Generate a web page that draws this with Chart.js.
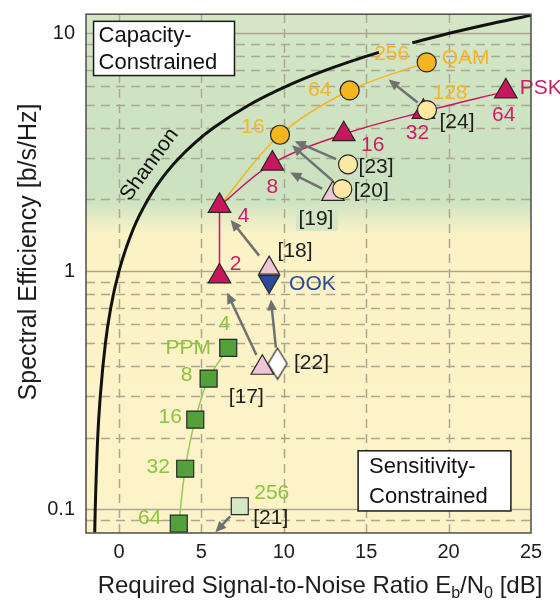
<!DOCTYPE html>
<html>
<head>
<meta charset="utf-8">
<title>Spectral efficiency vs. required Eb/N0</title>
<script src="https://cdn.jsdelivr.net/npm/chart.js@4.4.1/dist/chart.umd.min.js"></script>
<style>
  html, body { margin: 0; padding: 0; background: #ffffff; }
  canvas { display: block; }
</style>
</head>
<body>
<canvas id="chart" width="560" height="604"></canvas>
<script>
// ---------------- data ----------------
// Shannon limit; the gap leaves room for the "256" label
const shannonEbN0 = [-1.47, -1.44, -1.29, -1.13, -0.82, -0.50, 0.00, 0.86, 1.76, 2.70, 3.68, 4.69, 5.74, 7.92, 10.21, 12.59, 15.03, 15.78, null, 17.80, 20.10, 22.70, 25.33];
const shannonEff  = [0.08, 0.1, 0.2, 0.3, 0.5, 0.7, 1, 1.5, 2, 2.5, 3, 3.5, 4, 5, 6, 7, 8, 8.3, null, 9.1, 10, 11, 12];

// theoretical formats
const pskOrders = ['2', '4', '8', '16', '32', '64'];
const pskEbN0   = [6.1, 6.1, 9.31, 13.64, 18.47, 23.47];
const pskEff    = [0.95, 1.88, 2.83, 3.76, 4.67, 5.69];

const qamOrders = ['16', '64', '256'];
const qamEbN0   = [9.77, 14.0, 18.67];
const qamEff    = [3.74, 5.74, 7.53];

const ppmOrders = ['64', '32', '16', '8', '4'];
const ppmEbN0   = [3.63, 4.02, 4.63, 5.44, 6.63];
const ppmEff    = [0.087, 0.148, 0.238, 0.354, 0.476];

const ookEbN0 = [9.11];
const ookEff  = [0.905];

// experiments
const expPskRefs = ['[17]', '[18]', '[19]'];
const expPskEbN0 = [8.70, 9.11, 12.98];
const expPskEff  = [0.393, 1.03, 2.11];

const expQamRefs = ['[20]', '[23]', '[24]'];
const expQamEbN0 = [13.55, 13.9, 18.69];
const expQamEff  = [2.21, 2.81, 4.75];

const expOokRefs = ['[22]'];
const expOokEbN0 = [9.62];
const expOokEff  = [0.409];

const expPpmRefs = ['[21]'];
const expPpmEbN0 = [7.33];
const expPpmEff  = [0.103];

// theory points outside the plotted sets that arrows aim at
const qam128EbN0 = [16.36];
const qam128Eff  = [6.38];
const ppm256EbN0 = [5.85];
const ppm256Eff  = [0.080];

// axes
const xTickValues = [0, 5, 10, 15, 20, 25];
const yTickValues = [0.1, 1, 10];
const gridEbN0 = [0, 5, 10, 15, 20];
const gridEffMajor = [0.1, 1, 10];
const gridEffMinor = [0.09, 0.2, 0.3, 0.4, 0.5, 0.6, 0.7, 0.8, 0.9, 2, 3, 4, 5, 6, 7, 8, 9];

// ---------------- styling ----------------
const FONT = '"Liberation Sans", Arial, Helvetica, sans-serif';
const COL = {
  psk: '#c8175f', pskText: '#cf1c66',
  qam: '#f5b51e', qamText: '#f6b526',
  ppm: '#52a13a', ppmText: '#8cc43f', ppmLine: '#98c954',
  ook: '#2c4a9a', pink: '#f1c6d4', cream: '#fbe8a2', pale: '#d6e8c8',
  edge: '#262626', arrow: '#707070', grid: '#aca692', frame: '#4d4d4d', text: '#1c1c1c'
};

const pts = (xs, ys) => xs.map((x, i) => ({ x: x, y: ys[i] }));
const shannon = pts(shannonEbN0, shannonEff);
const psk = pts(pskEbN0, pskEff);
const qam = pts(qamEbN0, qamEff);
const ppm = pts(ppmEbN0, ppmEff);
const ook = pts(ookEbN0, ookEff);
const expPsk = pts(expPskEbN0, expPskEff);
const expQam = pts(expQamEbN0, expQamEff);
const expOok = pts(expOokEbN0, expOokEff);
const expPpm = pts(expPpmEbN0, expPpmEff);
const qam128 = pts(qam128EbN0, qam128Eff);
const ppm256 = pts(ppm256EbN0, ppm256Eff);

// tall white diamond marker
function makeDiamond(w, h, fill, stroke) {
  const c = document.createElement('canvas');
  c.width = w + 3; c.height = h + 3;
  const g = c.getContext('2d');
  const cx = c.width / 2, cy = c.height / 2;
  g.beginPath();
  g.moveTo(cx, cy - h / 2); g.lineTo(cx + w / 2, cy); g.lineTo(cx, cy + h / 2); g.lineTo(cx - w / 2, cy);
  g.closePath();
  g.fillStyle = fill; g.fill();
  g.lineWidth = 1.2; g.strokeStyle = stroke; g.stroke();
  return c;
}
const diamondMarker = makeDiamond(19, 31, '#ffffff', COL.edge);

// ---------------- annotation layout (pixel offsets from marks) ----------------
const pskLabelOffsets = [[16, -12], [24, 10], [0, 24], [29, 11], [-6, 21], [-2, 24]];
const qamLabelOffsets = [[-27, -8], [-30, 0], [-35, -8]];
const ppmLabelOffsets = [[-29, -5], [-27, -2], [-25, -2], [-22, -3], [-4, -24]];
const expPskLabelOffsets = [[-16, 29], [26, -17], [-17, 25]];
const expQamLabelOffsets = [[29, 2], [28, 3], [30, 12]];

// arrows: experiment -> theory, with gaps (px) at start and end
const arrows = [
  [expPsk[0], psk[0], 14, 18],
  [expOok[0], ook[0], 16, 18],
  [expPsk[1], psk[1], 16, 18],
  [expPsk[2], psk[2], 12, 20],
  [expQam[0], qam[0], 13, 16],
  [expQam[1], qam[0], 13, 16],
  [expQam[2], qam128[0], 12, 0],
  [expPpm[0], ppm256[0], 14, 0]
];

// ---------------- plugins ----------------
const P = (chart, p) => [chart.scales.x.getPixelForValue(p.x), chart.scales.y.getPixelForValue(p.y)];

function text(ctx, s, x, y, color, align, size) {
  ctx.font = (size || 21) + 'px ' + FONT;
  ctx.fillStyle = color;
  ctx.textAlign = align || 'center';
  ctx.textBaseline = 'middle';
  ctx.fillText(s, x, y);
}

const backdrop = {
  id: 'backdrop',
  beforeDraw(chart) {
    const { ctx, chartArea: a } = chart;
    const y = chart.scales.y;
    ctx.save();
    ctx.fillStyle = '#ffffff';
    ctx.fillRect(0, 0, chart.width, chart.height);
    const g = ctx.createLinearGradient(0, a.top, 0, a.bottom);
    const stop = v => Math.min(1, Math.max(0, (y.getPixelForValue(v) - a.top) / (a.bottom - a.top)));
    g.addColorStop(0, '#d4e6c5');
    g.addColorStop(stop(2.6), '#cbe1c0');
    g.addColorStop(stop(1.95), '#cee3c2');
    g.addColorStop(stop(1.45), '#fbf2c6');
    g.addColorStop(1, '#fcf3c8');
    ctx.fillStyle = g;
    ctx.fillRect(a.left, a.top, a.right - a.left, a.bottom - a.top);
    ctx.restore();
  },
  beforeDatasetsDraw(chart) {
    const { ctx, chartArea: a, scales: { x, y } } = chart;
    ctx.save();
    ctx.beginPath(); ctx.rect(a.left, a.top, a.right - a.left, a.bottom - a.top); ctx.clip();
    ctx.strokeStyle = COL.grid;
    ctx.lineWidth = 1.5;
    ctx.setLineDash([9, 6]);
    gridEbN0.forEach(v => {
      const px = Math.round(x.getPixelForValue(v)) + 0.5;
      ctx.beginPath(); ctx.moveTo(px, a.bottom); ctx.lineTo(px, a.top); ctx.stroke();
    });
    gridEffMinor.forEach(v => {
      const py = Math.round(y.getPixelForValue(v)) + 0.5;
      ctx.beginPath(); ctx.moveTo(a.left, py); ctx.lineTo(a.right, py); ctx.stroke();
    });
    ctx.setLineDash([]);
    gridEffMajor.forEach(v => {
      const py = Math.round(y.getPixelForValue(v)) + 0.5;
      ctx.beginPath(); ctx.moveTo(a.left, py); ctx.lineTo(a.right, py); ctx.stroke();
    });
    ctx.restore();
  },
  afterDatasetsDraw(chart) {
    const { ctx, chartArea: a } = chart;
    ctx.save();

    // arrows
    arrows.forEach(([from, to, g0, g1]) => {
      const [x0, y0] = P(chart, from), [x1, y1] = P(chart, to);
      const dx = x1 - x0, dy = y1 - y0, L = Math.hypot(dx, dy), ux = dx / L, uy = dy / L;
      const sx = x0 + ux * g0, sy = y0 + uy * g0, ex = x1 - ux * g1, ey = y1 - uy * g1;
      const head = 11, half = 5;
      ctx.strokeStyle = COL.arrow; ctx.lineWidth = 2.5; ctx.lineCap = 'butt';
      ctx.beginPath(); ctx.moveTo(sx, sy); ctx.lineTo(ex - ux * head * 0.7, ey - uy * head * 0.7); ctx.stroke();
      ctx.fillStyle = COL.arrow;
      ctx.beginPath();
      ctx.moveTo(ex, ey);
      ctx.lineTo(ex - ux * head - uy * half, ey - uy * head + ux * half);
      ctx.lineTo(ex - ux * head + uy * half, ey - uy * head - ux * half);
      ctx.closePath(); ctx.fill();
    });

    // order labels
    psk.forEach((p, i) => { const [px, py] = P(chart, p); text(ctx, pskOrders[i], px + pskLabelOffsets[i][0], py + pskLabelOffsets[i][1], COL.pskText); });
    qam.forEach((p, i) => { const [px, py] = P(chart, p); text(ctx, qamOrders[i], px + qamLabelOffsets[i][0], py + qamLabelOffsets[i][1], COL.qamText); });
    ppm.forEach((p, i) => { const [px, py] = P(chart, p); text(ctx, ppmOrders[i], px + ppmLabelOffsets[i][0], py + ppmLabelOffsets[i][1], COL.ppmText); });

    let q;
    q = P(chart, psk[5]); text(ctx, 'PSK', q[0] + 14, q[1] - 3, COL.pskText, 'left');
    q = P(chart, qam[2]); text(ctx, 'QAM', q[0] + 15, q[1] - 4, COL.qamText, 'left');
    q = P(chart, ppm[4]); text(ctx, 'PPM', q[0] - 40, q[1], COL.ppmText);
    q = P(chart, ook[0]); text(ctx, 'OOK', q[0] + 20, q[1] + 3, COL.ook, 'left');

    // experiment references
    expPsk.forEach((p, i) => {
      const [px, py] = P(chart, p);
      const lx = px + expPskLabelOffsets[i][0], ly = py + expPskLabelOffsets[i][1];
      if (i === 2) { ctx.fillStyle = '#d3e6c6'; ctx.fillRect(lx - 20, ly - 12, 42, 24); }
      text(ctx, expPskRefs[i], lx, ly, COL.text);
    });
    expQam.forEach((p, i) => { const [px, py] = P(chart, p); text(ctx, expQamRefs[i], px + expQamLabelOffsets[i][0], py + expQamLabelOffsets[i][1], COL.text); });
    q = P(chart, expQam[2]); text(ctx, '128', q[0] + 23, q[1] - 17, COL.qamText);
    q = P(chart, expOok[0]); text(ctx, expOokRefs[0], q[0] + 34, q[1], COL.text);
    q = P(chart, expPpm[0]);
    text(ctx, expPpmRefs[0], q[0] + 31, q[1] + 12, COL.text);
    text(ctx, '256', q[0] + 32, q[1] - 13, COL.ppmText);

    // Shannon label along the curve
    const [sx, sy] = P(chart, { x: 1.85, y: 2.8 });
    ctx.save();
    ctx.translate(sx, sy); ctx.rotate(-54 * Math.PI / 180);
    text(ctx, 'Shannon', 0, 0, '#111111', 'center', 21);
    ctx.restore();

    // region boxes
    const box = (x0, y0, x1, y1, lines, tx) => {
      const [l, t] = P(chart, { x: x0, y: y0 }), [r, b] = P(chart, { x: x1, y: y1 });
      ctx.fillStyle = '#ffffff'; ctx.fillRect(l, t, r - l, b - t);
      ctx.strokeStyle = '#1a1a1a'; ctx.lineWidth = 1.5; ctx.strokeRect(l, t, r - l, b - t);
      const h = (b - t) / lines.length;
      lines.forEach((s, i) => text(ctx, s, l + tx, t + h * (i + 0.5) + 1, '#111111', 'left', 22));
    };
    box(-1.54, 11.2, 7.01, 6.63, ['Capacity-', 'Constrained'], 5);
    box(14.51, 0.176, 23.78, 0.0984, ['Sensitivity-', 'Constrained'], 11);

    // frame
    ctx.strokeStyle = COL.frame; ctx.lineWidth = 1.5;
    ctx.strokeRect(a.left, a.top, a.right - a.left, a.bottom - a.top);
    ctx.restore();
  },
  afterDraw(chart) {
    const { ctx } = chart;
    ctx.save();
    // x-axis title with subscripts
    const big = '24px ' + FONT, small = '16px ' + FONT;
    const parts = [['Required Signal-to-Noise Ratio E', big, 0], ['b', small, 5], ['/N', big, 0], ['0', small, 5], [' [dB]', big, 0]];
    let w = 0;
    parts.forEach(p => { ctx.font = p[1]; w += ctx.measureText(p[0]).width; });
    let x = 320 - w / 2;
    const base = 593;
    ctx.fillStyle = COL.text; ctx.textAlign = 'left'; ctx.textBaseline = 'alphabetic';
    parts.forEach(p => { ctx.font = p[1]; ctx.fillText(p[0], x, base + p[2]); x += ctx.measureText(p[0]).width; });
    // y-axis title
    ctx.translate(29, 252); ctx.rotate(-Math.PI / 2);
    text(ctx, 'Spectral Efficiency [b/s/Hz]', 0, 0, COL.text, 'center', 25);
    ctx.restore();
  }
};

// ---------------- chart ----------------
const markers = (pointStyle, r, fill, extra) => Object.assign({
  showLine: false, pointStyle: pointStyle, pointRadius: r, pointHoverRadius: r,
  backgroundColor: fill, borderColor: COL.edge, borderWidth: 1.2
}, extra || {});
const curve = (color, width, extra) => Object.assign({
  showLine: true, pointRadius: 0, pointHoverRadius: 0, borderColor: color, borderWidth: width,
  backgroundColor: color, fill: false, spanGaps: false
}, extra || {});

new Chart(document.getElementById('chart'), {
  type: 'scatter',
  data: {
    datasets: [
      Object.assign({ label: 'Shannon', data: shannon }, curve('#111111', 3, { cubicInterpolationMode: 'monotone', order: 30 })),
      Object.assign({ label: 'QAM curve', data: [psk[1]].concat(qam) }, curve(COL.qam, 1.5, { tension: 0.35, order: 29 })),
      Object.assign({ label: 'PSK 2-4', data: psk.slice(0, 2) }, curve(COL.psk, 1.5, { order: 28 })),
      Object.assign({ label: 'PSK curve', data: psk.slice(1) }, curve(COL.psk, 1.5, { tension: 0.35, order: 28 })),
      Object.assign({ label: 'PPM curve', data: ppm }, curve(COL.ppmLine, 1.5, { tension: 0.3, order: 28 })),
      Object.assign({ label: 'PSK', data: psk }, markers('triangle', 13, COL.psk, { order: 10 })),
      Object.assign({ label: 'QAM', data: qam }, markers('circle', 9.5, COL.qam, { order: 10 })),
      Object.assign({ label: 'PPM', data: ppm }, markers('rect', 12, COL.ppm, { order: 10 })),
      Object.assign({ label: 'OOK', data: ook }, markers('triangle', 12, COL.ook, { pointRotation: 180, order: 9 })),
      Object.assign({ label: 'PSK experiments', data: expPsk }, markers('triangle', 13, COL.pink, { pointRadius: [13, 12, 13], order: 5 })),
      Object.assign({ label: 'QAM experiments', data: expQam }, markers('circle', 9.5, COL.cream, { order: 4 })),
      Object.assign({ label: 'OOK experiment', data: expOok }, markers(diamondMarker, 10, '#ffffff', { order: 3 })),
      Object.assign({ label: 'PPM experiment', data: expPpm }, markers('rect', 12, COL.pale, { order: 3 }))
    ]
  },
  options: {
    responsive: false,
    devicePixelRatio: 1,
    animation: false,
    events: [],
    layout: { padding: { top: 8, right: 29, left: 0, bottom: 0 } },
    plugins: { legend: { display: false }, tooltip: { enabled: false } },
    scales: {
      x: {
        type: 'linear', min: -2, max: 25, bounds: 'data',
        afterBuildTicks: s => { s.ticks = xTickValues.map(v => ({ value: v })); },
        afterFit: s => { s.height = 71; s.paddingLeft = 0; s.paddingRight = 0; },
        grid: { display: false, drawTicks: false },
        border: { display: false },
        ticks: { font: { family: FONT, size: 20 }, color: COL.text, padding: 7, maxRotation: 0, autoSkip: false, callback: v => String(v) }
      },
      y: {
        type: 'logarithmic', min: 0.0795, max: 12, bounds: 'data',
        afterBuildTicks: s => { s.ticks = yTickValues.map(v => ({ value: v })); },
        afterFit: s => { s.width = 86; s.paddingTop = 0; s.paddingBottom = 0; },
        grid: { display: false, drawTicks: false },
        border: { display: false },
        ticks: { font: { family: FONT, size: 20 }, color: COL.text, padding: 11, autoSkip: false, callback: v => String(v) }
      }
    }
  },
  plugins: [backdrop]
});
</script>
</body>
</html>
